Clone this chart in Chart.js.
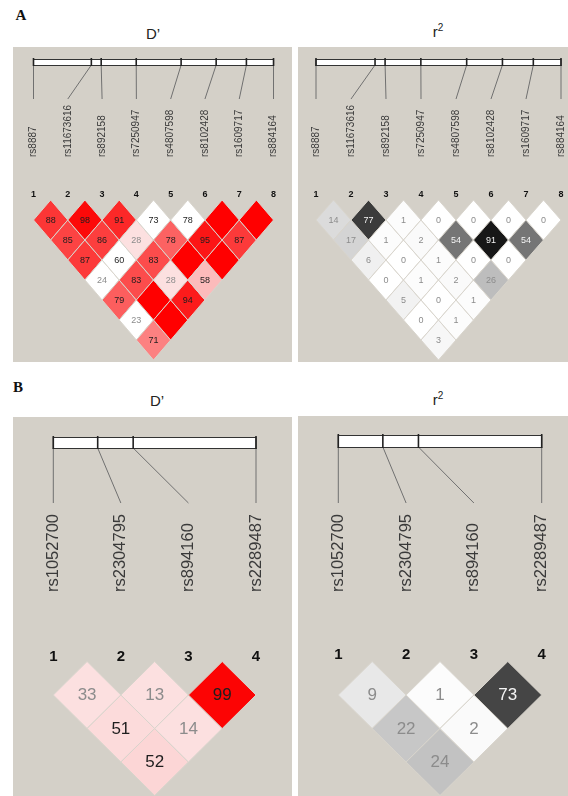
<!DOCTYPE html>
<html>
<head>
<meta charset="utf-8">
<script src="https://cdn.jsdelivr.net/npm/chart.js@4.4.1/dist/chart.umd.min.js"></script>
<style>
  body { margin: 0; width: 568px; height: 796px; background: #fff; position: relative; overflow: hidden;
         font-family: "Liberation Sans", Arial, sans-serif; }
  canvas.ld { position: absolute; background: #d4d0c8; }
  .title { position: absolute; transform: translate(-50%, -50%); font-size: 15px; color: #222; white-space: nowrap; }
  .title sup { font-size: 10px; }
  .panel { position: absolute; font-family: "Liberation Serif", "Times New Roman", serif; font-weight: bold;
           font-size: 15px; color: #111; transform: translate(-50%, -50%); }
</style>
</head>
<body>
<div class="panel" style="left:21px;top:15px">A</div>
<div class="title" style="left:153px;top:33px">D’</div>
<div class="title" style="left:438px;top:31px">r<sup>2</sup></div>
<div class="panel" style="left:18px;top:387px">B</div>
<div class="title" style="left:157px;top:400px">D’</div>
<div class="title" style="left:438px;top:399px">r<sup>2</sup></div>

<canvas id="dA" class="ld" width="279" height="315" style="left:13px;top:47px"></canvas>
<canvas id="rA" class="ld" width="270" height="315" style="left:298px;top:47px"></canvas>
<canvas id="dB" class="ld" width="279" height="379" style="left:13px;top:417px"></canvas>
<canvas id="rB" class="ld" width="270" height="380" style="left:298px;top:416px"></canvas>

<script>
// SNP names and relative positions along the region bar (0 = first, 1 = last)
var snpsA = ['rs8887', 'rs11673616', 'rs892158', 'rs7250947', 'rs4807598', 'rs8102428', 'rs1609717', 'rs884164'];
var positionsA = [0, 0.241, 0.282, 0.428, 0.615, 0.761, 0.887, 1];
var snpsB = ['rs1052700', 'rs2304795', 'rs894160', 'rs2289487'];
var positionsB = [0, 0.219, 0.394, 1];

// pairwise values, row i holds pairs (i, i+1), (i, i+2), ...
var dPrimeA = [
  [88, 85, 87, 24, 79, 23, 71],
  [98, 86, 60, 83, 100, 100],
  [91, 28, 83, 28, 94],
  [73, 78, 100, 58],
  [78, 95, 100],
  [100, 87],
  [100]
];
// 1 = LOD >= 2, 0 = not significant
var lodA = [
  [1, 1, 1, 0, 1, 0, 1],
  [1, 1, 0, 1, 1, 1],
  [1, 1, 1, 1, 1],
  [0, 1, 1, 1],
  [0, 1, 1],
  [1, 1],
  [1]
];
var rSquaredA = [
  [14, 17, 6, 0, 5, 0, 3],
  [77, 1, 0, 1, 0, 1],
  [1, 2, 1, 2, 1],
  [0, 54, 0, 26],
  [0, 91, 0],
  [0, 54],
  [0]
];

var dPrimeB = [
  [33, 51, 52],
  [13, 14],
  [99]
];
var lodB = [
  [1, 1, 1],
  [1, 1],
  [1]
];
var rSquaredB = [
  [9, 22, 24],
  [1, 2],
  [73]
];

function cells(vals, strong) {
  var out = [];
  vals.forEach(function (row, i) {
    row.forEach(function (v, k) {
      var a = i + 1, b = i + 2 + k;
      out.push({ x: (a + b) / 2, y: b - a, v: v, s: strong ? strong[i][k] : 1 });
    });
  });
  return out;
}

function dpColor(c) {
  if (!c.s) return '#ffffff';
  if (c.v >= 100) return 'rgb(255,0,0)';
  var g = Math.min(224, Math.round(223 * 2 * (1 - c.v / 100)));
  return 'rgb(252,' + g + ',' + g + ')';
}
function dpText(c) { return c.v < 50 ? '#8c8c8c' : '#1e1e1e'; }
function r2Color(c) {
  var g = Math.round(255 * (1 - c.v / 100));
  return 'rgb(' + g + ',' + g + ',' + g + ')';
}
function r2Text(c) { return c.v > 50 ? '#f4f4f4' : '#8c8c8c'; }

var FONT = '"Liberation Sans", Arial, sans-serif';
var panelCfg = {};

var ldPlugin = {
  id: 'ldPanel',
  beforeDatasetsDraw: function (chart) {
    var p = panelCfg[chart.canvas.id];
    var ctx = chart.ctx, xs = chart.scales.x;
    var n = p.snps.length;
    var x1 = xs.getPixelForValue(1), xn = xs.getPixelForValue(n);
    ctx.save();
    // connector lines from the bar to the labels
    ctx.strokeStyle = '#707070';
    ctx.lineWidth = 1;
    p.pos.forEach(function (f, i) {
      var tx = x1 + f * (xn - x1), lx = xs.getPixelForValue(i + 1);
      ctx.beginPath();
      ctx.moveTo(tx, p.barTop + p.barH);
      ctx.lineTo(lx, p.lineEnd);
      ctx.stroke();
    });
    // region bar
    ctx.fillStyle = '#ffffff';
    ctx.fillRect(x1, p.barTop, xn - x1, p.barH);
    ctx.strokeStyle = '#333';
    ctx.strokeRect(x1, p.barTop + 0.5, xn - x1, p.barH);
    ctx.strokeStyle = '#222';
    ctx.lineWidth = 1.6;
    p.pos.forEach(function (f) {
      var tx = x1 + f * (xn - x1);
      ctx.beginPath();
      ctx.moveTo(tx, p.barTop - 1);
      ctx.lineTo(tx, p.barTop + p.barH + 1);
      ctx.stroke();
    });
    // SNP names
    ctx.fillStyle = '#3a3a3a';
    ctx.font = p.labFont + 'px ' + FONT;
    ctx.textAlign = 'left';
    ctx.textBaseline = 'middle';
    p.snps.forEach(function (name, i) {
      ctx.save();
      ctx.translate(xs.getPixelForValue(i + 1), p.labBottom);
      ctx.rotate(-Math.PI / 2);
      ctx.fillText(name, 0, 0);
      ctx.restore();
    });
    // marker numbers
    ctx.fillStyle = '#111';
    ctx.font = 'bold ' + p.numFont + 'px ' + FONT;
    ctx.textAlign = 'center';
    p.snps.forEach(function (name, i) {
      ctx.fillText(String(i + 1), xs.getPixelForValue(i + 1), p.numY);
    });
    ctx.restore();
  },
  afterDatasetsDraw: function (chart) {
    var p = panelCfg[chart.canvas.id];
    var ctx = chart.ctx, xs = chart.scales.x, ys = chart.scales.y;
    var meta = chart.getDatasetMeta(0);
    var data = chart.data.datasets[0].data;
    var hw = xs.getPixelForValue(1.5) - xs.getPixelForValue(1);
    var hh = ys.getPixelForValue(2) - ys.getPixelForValue(1);
    ctx.save();
    meta.data.forEach(function (pt, k) {
      var c = data[k];
      ctx.beginPath();
      ctx.moveTo(pt.x, pt.y - hh);
      ctx.lineTo(pt.x + hw, pt.y);
      ctx.lineTo(pt.x, pt.y + hh);
      ctx.lineTo(pt.x - hw, pt.y);
      ctx.closePath();
      ctx.fillStyle = p.fill(c);
      ctx.fill();
      ctx.strokeStyle = '#d8d4cc';
      ctx.lineWidth = 1;
      ctx.stroke();
    });
    ctx.font = p.cellFont + 'px ' + FONT;
    ctx.textAlign = 'center';
    ctx.textBaseline = 'middle';
    meta.data.forEach(function (pt, k) {
      var c = data[k];
      if (c.v >= 100) return;
      ctx.fillStyle = p.text(c);
      ctx.fillText(String(c.v), pt.x, pt.y + 0.5);
    });
    ctx.restore();
  }
};

function drawPanel(id, cfg) {
  var canvas = document.getElementById(id);
  var W = canvas.width, H = canvas.height;
  var xmin = 1 - cfg.p1 / cfg.unit;
  var ymin = 1 - cfg.r1 / cfg.step;
  panelCfg[id] = cfg;
  return new Chart(canvas, {
    type: 'scatter',
    data: { datasets: [{ data: cfg.cells, pointRadius: 0, pointHoverRadius: 0 }] },
    options: {
      responsive: false,
      animation: false,
      events: [],
      layout: { padding: 0 },
      scales: {
        x: { type: 'linear', display: false, min: xmin, max: xmin + W / cfg.unit },
        y: { type: 'linear', display: false, reverse: true, min: ymin, max: ymin + H / cfg.step }
      },
      plugins: { legend: { display: false }, tooltip: { enabled: false } }
    },
    plugins: [ldPlugin]
  });
}

var layoutA = { barTop: 12, barH: 6, lineEnd: 52, labBottom: 110, labFont: 10, numY: 148, numFont: 9, r1: 173, step: 20, cellFont: 9 };
var layoutB = { barTop: 20, barH: 11, lineEnd: 86, labBottom: 175, labFont: 16.5, numY: 240, numFont: 15, r1: 278, step: 33.5, cellFont: 17 };

function merge(a, b) { var o = {}; for (var k in a) o[k] = a[k]; for (var j in b) o[j] = b[j]; return o; }

drawPanel('dA', merge(layoutA, { snps: snpsA, pos: positionsA, cells: cells(dPrimeA, lodA), fill: dpColor, text: dpText, p1: 20.5, unit: 34.29 }));
drawPanel('rA', merge(layoutA, { snps: snpsA, pos: positionsA, cells: cells(rSquaredA), fill: r2Color, text: r2Text, p1: 18, unit: 35.0 }));
drawPanel('dB', merge(layoutB, { snps: snpsB, pos: positionsB, cells: cells(dPrimeB, lodB), fill: dpColor, text: dpText, p1: 40.3, unit: 67.57 }));
drawPanel('rB', merge(layoutB, { snps: snpsB, pos: positionsB, cells: cells(rSquaredB), fill: r2Color, text: r2Text, p1: 40.3, unit: 67.8, barTop: 19, barH: 12, lineEnd: 87, labBottom: 176, numY: 239, r1: 279 }));
</script>
</body>
</html>
